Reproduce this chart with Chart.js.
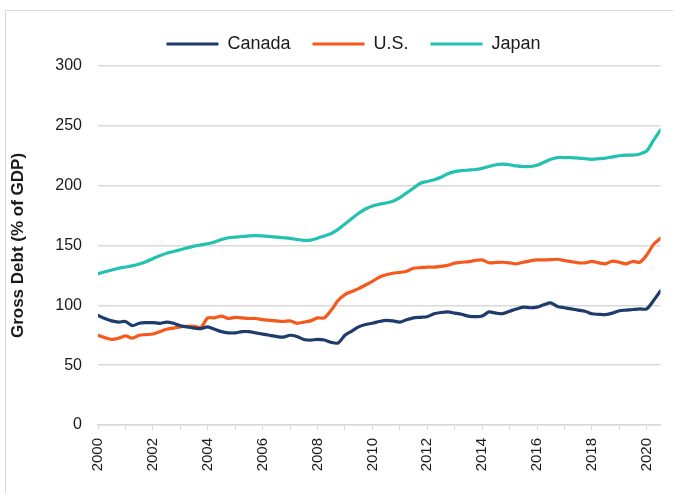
<!DOCTYPE html>
<html>
<head>
<meta charset="utf-8">
<script src="https://cdn.jsdelivr.net/npm/chart.js@4.4.1/dist/chart.umd.min.js"></script>
<style>
  html, body { margin: 0; padding: 0; background: #fff; overflow: hidden; }
  #frame { position: absolute; left: 5px; top: 10px; width: 720px; height: 540px; border: 1px solid #d9d9d9; }
  #wrap { position: absolute; left: 0; top: 0; width: 673px; height: 493px; }
</style>
</head>
<body>
<div id="frame"></div>
<div id="wrap"><canvas id="idCanv_debt"></canvas></div>
<script>
// quarterly gross debt, % of GDP, 2000Q1 .. 2020Q3
const firstYear = 2000;
const yearLabels = ["2000", "2002", "2004", "2006", "2008", "2010", "2012", "2014", "2016", "2018", "2020"];
const seriesNames = ["Canada", "U.S.", "Japan"];
const seriesColors = ["#1d3b6c", "#f5591c", "#22c1b1"];

const canada = [
  91.5, 89, 87, 86,
  86.5, 83, 85, 85.5,
  85.5, 85, 86, 85,
  83, 82, 81, 80.5,
  82, 80, 78, 77,
  77, 78, 78, 77,
  76, 75, 74, 73.5,
  75, 74, 71.5, 71,
  71.5, 71, 69, 68.5,
  75, 78.5, 82, 84,
  85, 86.5, 87.5, 87,
  86, 88, 89.5, 90,
  90.5, 93, 94, 94.5,
  93.5, 92.5, 91, 90.5,
  91, 94.5, 93.5, 93,
  95, 97, 98.5, 98,
  98.5, 100.5, 102, 99,
  98, 97, 96, 95,
  93, 92.5, 92.2, 93.5,
  95.5, 96, 96.5, 97,
  97, 104, 112,
];
const us = [
  75, 73, 71.5, 72.5,
  74.5, 72.5, 75, 75.5,
  76, 78, 80, 81,
  82, 82.5, 82.5, 81.5,
  89.5, 89.5, 91, 89,
  90, 89.5, 89, 89,
  88, 87.5, 87, 86.5,
  87, 85, 86, 87,
  89.5, 89.5, 96, 104,
  109, 111.5, 114, 117,
  120, 123.5, 125.5, 126.8,
  127.5, 128.5, 131, 131.5,
  132, 132, 132.5, 133.5,
  135.3, 136, 136.5, 137.5,
  138, 135.6, 135.8, 136,
  135.5, 134.7, 136, 137.2,
  138, 138, 138.2, 138.5,
  137.5, 136.5, 135.5, 135.5,
  136.7, 135.5, 134.7, 137,
  136, 134.7, 136.7, 136,
  142, 151, 156,
];
const japan = [
  126.5, 128, 129.5, 131,
  132, 133, 134.5, 136.5,
  139, 141.5, 143.5, 145,
  146.5, 148, 149.5, 150.5,
  151.5, 153, 155, 156.5,
  157, 157.5, 158, 158.3,
  158, 157.5, 157, 156.5,
  156, 155, 154.3, 154.5,
  156, 158, 160, 163.5,
  168, 172.5, 177, 180.5,
  183, 184.5, 185.5, 187,
  190, 194, 198, 202,
  203.5, 205, 207, 210,
  211.7, 212.5, 213, 213.5,
  214.5, 216, 217.5, 218,
  217.5, 216.5, 216, 216,
  217, 219.5, 222, 223.5,
  223.5, 223.5, 223, 222.5,
  222, 222.5, 223, 224,
  225, 225.5, 225.5, 226.5,
  229, 238, 246.5,
];

const textColor = "#1a1a1a";
const gridColor = "#d9d9d9";
const fontFamily = "'Liberation Sans', Arial, sans-serif";

function toPoints(values) {
  return values.map((v, i) => ({ x: firstYear + i / 4, y: v }));
}

const debtDatasets = [canada, us, japan].map((values, i) => ({
  label: seriesNames[i],
  data: toPoints(values),
  borderColor: seriesColors[i],
  backgroundColor: seriesColors[i],
  borderWidth: 3.2,
  borderCapStyle: "round",
  borderJoinStyle: "round",
  pointRadius: 0,
  tension: 0.25,
}));

// move the legend a bit right and up, as in the original
const legendShift = {
  id: "legendShift",
  afterLayout(chart) {
    chart.legend.left += 22;
    chart.legend.right += 22;
    chart.legend.top -= 3;
    chart.legend.bottom -= 3;
  },
};

const debtChart = new Chart(document.getElementById("idCanv_debt"), {
  type: "line",
  data: { datasets: debtDatasets },
  plugins: [legendShift],
  options: {
    responsive: true,
    maintainAspectRatio: false,
    animation: false,
    layout: { padding: { top: 16, right: 10, left: 0, bottom: 0 } },
    plugins: {
      legend: {
        position: "top",
        labels: {
          usePointStyle: true,
          pointStyle: "line",
          pointStyleWidth: 52,
          padding: 22,
          color: textColor,
          font: { family: fontFamily, size: 18 },
        },
      },
      tooltip: { enabled: false },
    },
    scales: {
      x: {
        type: "linear",
        min: 2000,
        max: 2020.5,
        afterFit: (scale) => {
          scale.height = 68;
        },
        border: { color: gridColor, width: 1.5 },
        grid: { drawOnChartArea: false, drawTicks: true, tickLength: 5, color: gridColor },
        ticks: {
          stepSize: 1,
          includeBounds: false,
          autoSkip: false,
          minRotation: 90,
          maxRotation: 90,
          padding: 8,
          color: textColor,
          font: { family: fontFamily, size: 15 },
          callback: (value) => (yearLabels.includes(String(value)) ? String(value) : ""),
        },
      },
      y: {
        min: 0,
        max: 300,
        afterFit: (scale) => {
          scale.width = 98;
        },
        border: { display: false },
        grid: { color: gridColor, lineWidth: 1.5, drawTicks: false },
        ticks: {
          stepSize: 50,
          padding: 16,
          color: textColor,
          font: { family: fontFamily, size: 16 },
        },
        title: {
          display: true,
          text: "Gross Debt (% of GDP)",
          color: textColor,
          padding: { top: 8, bottom: 0 },
          font: { family: fontFamily, size: 17, weight: "bold" },
        },
      },
    },
  },
});
</script>
</body>
</html>
